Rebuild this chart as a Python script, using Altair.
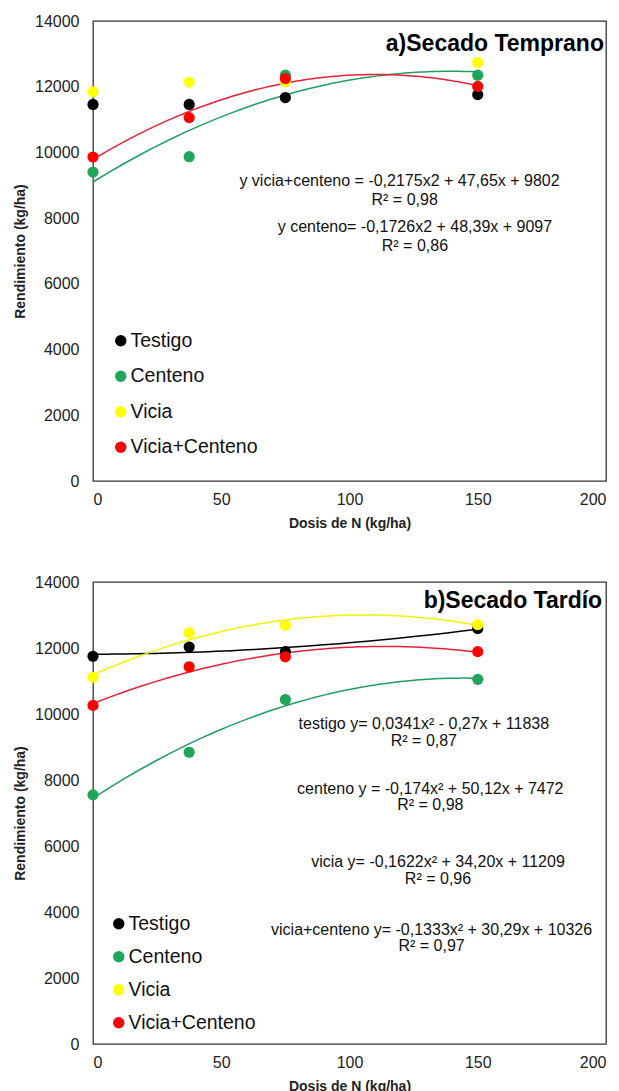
import altair as alt
import pandas as pd

# ---------------- data ----------------
doses = [0, 37.5, 75, 150]
series = ["Testigo", "Centeno", "Vicia", "Vicia+Centeno"]
colors = ["#000000", "#1ea65a", "#ffff00", "#ff0000"]
line_colors = {"Testigo": "#000000", "Centeno": "#1f9e62", "Vicia": "#f2f200", "Vicia+Centeno": "#e5203a"}

# a) Secado Temprano
a_testigo = [11460, 11460, 11670, 11760]
a_centeno = [9400, 9870, 12350, 12350]
a_vicia = [11850, 12140, 12150, 12740]
a_vicia_centeno = [9860, 11060, 12250, 12010]

# b) Secado Tardío
b_testigo = [11750, 12030, 11890, 12590]
b_centeno = [7550, 8840, 10440, 11050]
b_vicia = [11110, 12460, 12690, 12710]
b_vicia_centeno = [10260, 11430, 11730, 11890]

a_fit = ["Centeno", "Vicia+Centeno"]
b_fit = ["Testigo", "Centeno", "Vicia", "Vicia+Centeno"]

a_title = "a)Secado Temprano"
b_title = "b)Secado Tardío"

a_eq_text = [
    "y vicia+centeno  = -0,2175x2  + 47,65x + 9802",
    "R² = 0,98",
    "y centeno= -0,1726x2  + 48,39x + 9097",
    "R² = 0,86",
]
b_eq_text = [
    "testigo y= 0,0341x² - 0,27x + 11838",
    "R² = 0,87",
    "centeno y = -0,174x² + 50,12x + 7472",
    "R² = 0,98",
    "vicia y= -0,1622x² + 34,20x + 11209",
    "R² = 0,96",
    "vicia+centeno y= -0,1333x² + 30,29x + 10326",
    "R² = 0,97",
]

# annotation anchor positions (data units)
a_eq_x = [119.5, 121.5, 125.5, 125.5]
a_eq_y = [9130, 8550, 7730, 7150]
b_eq_x = [129, 129, 131.5, 131.5, 134.5, 134.5, 132, 132]
b_eq_y = [9700, 9180, 7730, 7240, 5515, 5000, 3455, 2970]

FONT = "Liberation Sans"


def make_df(vals):
    rows = []
    for s, v in zip(series, vals):
        for d, y in zip(doses, v):
            rows.append({"dosis": d, "rend": y, "trat": s})
    return pd.DataFrame(rows)


def panel(vals, fit, title, title_xy, eq_text, eq_x, eq_y, h, leg_x, leg_y, leg_pad):
    df = make_df(vals)
    xenc = alt.X("dosis:Q", scale=alt.Scale(domain=[0, 200], nice=False),
                 axis=alt.Axis(values=[0, 50, 100, 150, 200], title="Dosis de N (kg/ha)", format="d"))
    yenc = alt.Y("rend:Q", scale=alt.Scale(domain=[0, 14000], nice=False),
                 axis=alt.Axis(values=list(range(0, 14001, 2000)), title="Rendimiento (kg/ha)", format="d"))

    line_layers = []
    for s in fit:
        line_layers.append(
            alt.Chart(df)
            .transform_filter(alt.datum.trat == s)
            .transform_regression("dosis", "rend", method="poly", order=2, extent=[0, 150])
            .mark_line(strokeWidth=1.5, color=line_colors[s])
            .encode(x=xenc, y=yenc)
        )
    points = (
        alt.Chart(df)
        .mark_circle(size=125, opacity=1)
        .encode(
            x=xenc, y=yenc,
            color=alt.Color("trat:N", scale=alt.Scale(domain=series, range=colors),
                            legend=alt.Legend(orient="none", legendX=leg_x, legendY=leg_y, title=None,
                                              labelFontSize=19.5, labelFont=FONT, labelColor="#111",
                                              symbolSize=130, rowPadding=leg_pad, labelOffset=0)),
        )
    )
    tdf = pd.DataFrame({"dosis": [title_xy[0]], "rend": [title_xy[1]], "t": [title]})
    ttl = alt.Chart(tdf).mark_text(align="right", baseline="middle", font=FONT,
                                   fontSize=23, fontWeight="bold", color="#000").encode(
        x="dosis:Q", y="rend:Q", text="t:N")
    edf = pd.DataFrame({"dosis": eq_x, "rend": eq_y, "t": eq_text})
    eqs = alt.Chart(edf).mark_text(align="center", baseline="middle", font=FONT,
                                   fontSize=16, color="#111").encode(
        x="dosis:Q", y="rend:Q", text="t:N")
    return alt.layer(*line_layers, points, ttl, eqs).properties(width=513, height=h)


pa = panel([a_testigo, a_centeno, a_vicia, a_vicia_centeno], a_fit, a_title, (199.2, 13300),
           a_eq_text, a_eq_x, a_eq_y, 460, 18, 310, 14.5)
pb = panel([b_testigo, b_centeno, b_vicia, b_vicia_centeno], b_fit, b_title, (198.5, 13420),
           b_eq_text, b_eq_x, b_eq_y, 462, 16, 332, 12)

chart = (
    alt.vconcat(pa, pb, spacing=42)
    .resolve_scale(color="independent")
    .resolve_legend(color="independent")
    .properties(padding={"top": 4, "left": 4, "right": 0, "bottom": 0})
    .configure_view(stroke="#333333", strokeWidth=1.3)
    .configure_axis(
        domain=False, ticks=False, grid=False,
        labelFont=FONT, labelFontSize=16, labelColor="#222",
        titleFont=FONT, titleFontSize=14, titleFontWeight="bold", titleColor="#222",
    )
    .configure_axisY(labelPadding=14, titlePadding=7)
    .configure_axisX(labelPadding=10, titlePadding=9)
)

chart.save("out.html", embed_options={"renderer": "svg", "actions": False})
